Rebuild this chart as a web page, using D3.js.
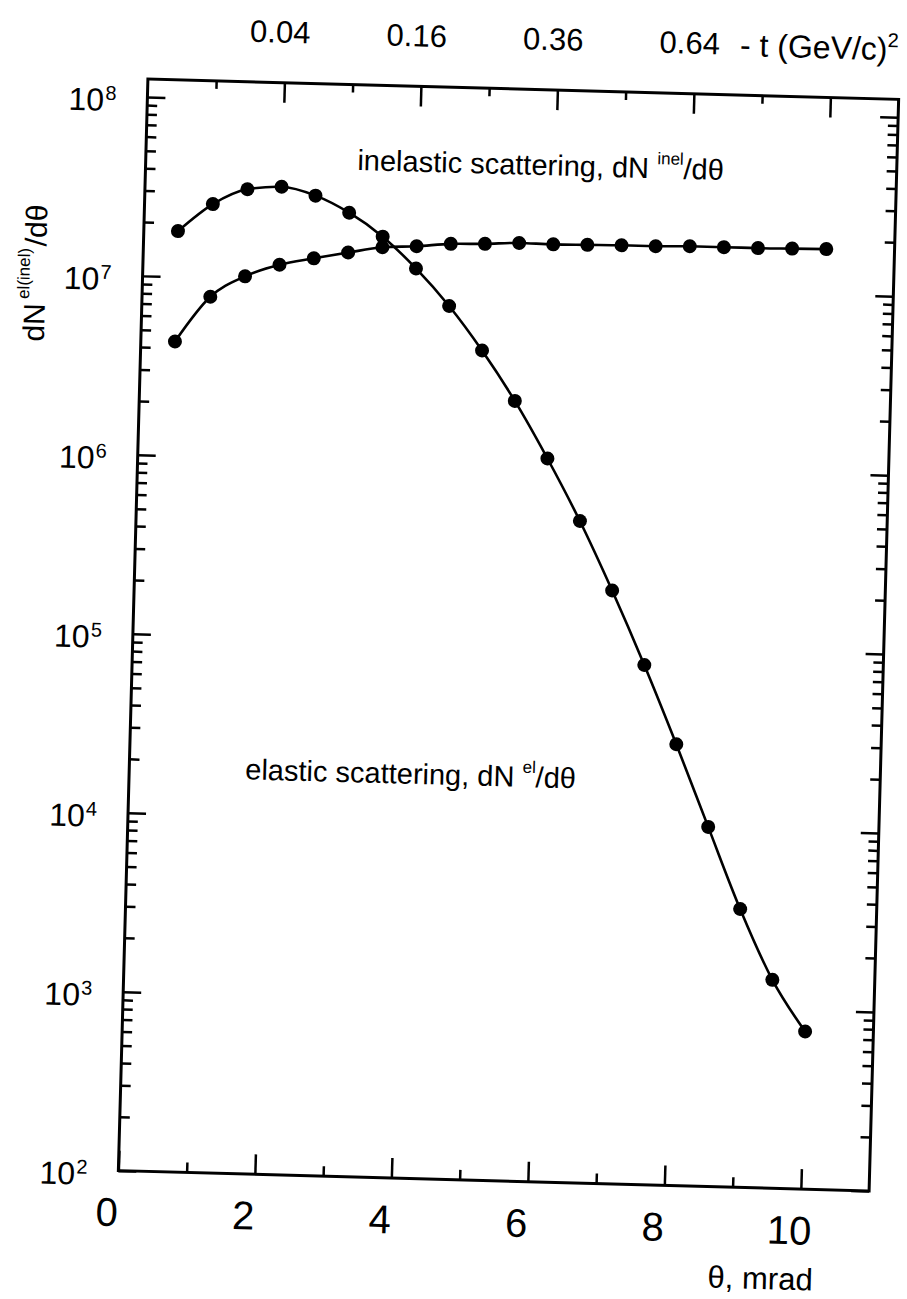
<!DOCTYPE html>
<html>
<head>
<meta charset="utf-8">
<script src="https://cdn.jsdelivr.net/npm/d3@7"></script>
<style>
  body { margin: 0; background: #fff; }
  svg { display: block; font-family: "Liberation Sans", Arial, Helvetica, sans-serif; }
</style>
</head>
<body>
<div id="chart"></div>
<script>
// scattering angle theta, mrad
const theta = [0.5, 1.0, 1.5, 2.0, 2.5, 3.0, 3.5, 4.0, 4.5, 5.0,
               5.5, 6.0, 6.5, 7.0, 7.5, 8.0, 8.5, 9.0, 9.5, 10.0];
// dN_el / dtheta
const elastic = [1.80e7, 2.58e7, 3.16e7, 3.30e7, 2.98e7, 2.42e7, 1.80e7, 1.21e7, 7.55e6, 4.31e6,
                 2.28e6, 1.10e6, 4.98e5, 2.06e5, 8.0e4, 2.92e4, 1.02e4, 3.59e3, 1.46e3, 7.6e2];
// dN_inel / dtheta
const inelastic = [4.35e6, 7.83e6, 1.03e7, 1.21e7, 1.33e7, 1.45e7, 1.57e7, 1.61e7, 1.68e7, 1.70e7,
                   1.74e7, 1.73e7, 1.74e7, 1.75e7, 1.75e7, 1.77e7, 1.77e7, 1.77e7, 1.78e7, 1.79e7];

// axis ticks
const xMajor = [0, 2, 4, 6, 8, 10];
const xMinor = [1, 3, 5, 7, 9];
const yDecades = [1e2, 1e3, 1e4, 1e5, 1e6, 1e7, 1e8];
// top axis: -t (GeV/c)^2 at theta = 2, 4, 6, 8 mrad
const tTheta = [2, 4, 6, 8];
const tLabels = ['0.04', '0.16', '0.36', '0.64'];

const width = 907, height = 1299;
const margin = { top: 89, right: 23, bottom: 118, left: 133 };
const innerW = width - margin.left - margin.right;
const innerH = height - margin.top - margin.bottom;

const x = d3.scaleLinear().domain([0, 11]).range([margin.left, margin.left + innerW]);
const y = d3.scaleLog().domain([1e2, Math.pow(10, 8.1)]).range([margin.top + innerH, margin.top]);

const svg = d3.select('#chart').append('svg')
  .attr('width', width)
  .attr('height', height);

// the scanned figure sits slightly tilted on the page
const root = svg.append('g').attr('transform', 'rotate(1.55 509 635)');

const isDecade = v => Math.abs(Math.log10(v) - Math.round(Math.log10(v))) < 1e-9;
const yMinor = y.ticks().filter(v => !isDecade(v));

function clean(g) {
  g.attr('font-size', null).attr('font-family', null);
  g.select('.domain').remove();
  g.selectAll('.tick line').attr('stroke', '#000').attr('stroke-width', 2.5);
}

// bottom axis
const bottom = margin.top + innerH;
root.append('g')
  .attr('transform', `translate(0,${bottom})`)
  .call(d3.axisBottom(x).tickValues(xMinor).tickSize(-10).tickFormat(''))
  .call(clean);
root.append('g')
  .attr('transform', `translate(0,${bottom})`)
  .call(d3.axisBottom(x).tickValues(xMajor).tickSize(-20).tickPadding(27).tickFormat(d3.format('d')))
  .call(clean)
  .call(g => g.selectAll('.tick text').attr('dx', -11).attr('font-size', 40).attr('fill', '#000'));

// top axis (-t scale)
root.append('g')
  .attr('transform', `translate(0,${margin.top})`)
  .call(d3.axisTop(x).tickValues(xMinor).tickSize(-8).tickFormat(''))
  .call(clean);
root.append('g')
  .attr('transform', `translate(0,${margin.top})`)
  .call(d3.axisTop(x).tickValues([2, 4, 6, 8, 10]).tickSize(-20).tickPadding(40)
    .tickFormat(d => { const i = tTheta.indexOf(d); return i < 0 ? '' : tLabels[i]; }))
  .call(clean)
  .call(g => g.selectAll('.tick text').attr('dx', -6).attr('font-size', 31).attr('fill', '#000'));

// left axis
root.append('g')
  .attr('transform', `translate(${margin.left},0)`)
  .call(d3.axisLeft(y).tickValues(yMinor).tickSize(-10).tickFormat(''))
  .call(clean);
root.append('g')
  .attr('transform', `translate(${margin.left},0)`)
  .call(d3.axisLeft(y).tickValues(yDecades).tickSize(-18).tickPadding(31))
  .call(clean)
  .call(g => {
    const t = g.selectAll('.tick text')
      .attr('dy', '0.45em')
      .attr('font-size', 32)
      .attr('fill', '#000')
      .text(null);
    t.append('tspan').text('10');
    t.append('tspan')
      .attr('dx', 1)
      .attr('dy', '-0.55em')
      .attr('font-size', 20)
      .text(d => Math.round(Math.log10(d)));
  });

// right axis
const right = margin.left + innerW;
root.append('g')
  .attr('transform', `translate(${right},0)`)
  .call(d3.axisRight(y).tickValues(yMinor).tickSize(-10).tickFormat(''))
  .call(clean);
root.append('g')
  .attr('transform', `translate(${right},0)`)
  .call(d3.axisRight(y).tickValues(yDecades).tickSize(-18).tickFormat(''))
  .call(clean);

// frame
root.append('rect')
  .attr('x', margin.left)
  .attr('y', margin.top)
  .attr('width', innerW)
  .attr('height', innerH)
  .attr('fill', 'none')
  .attr('stroke', '#000')
  .attr('stroke-width', 3);

// curves and points
const series = [elastic, inelastic].map(vals => theta.map((t, i) => ({ t, v: vals[i] })));

const line = d3.line()
  .x(d => x(d.t))
  .y(d => y(d.v))
  .curve(d3.curveMonotoneX);

root.selectAll('.curve')
  .data(series)
  .join('path')
    .attr('class', 'curve')
    .attr('d', line)
    .attr('fill', 'none')
    .attr('stroke', '#000')
    .attr('stroke-width', 2.6);

root.selectAll('.pts')
  .data(series)
  .join('g')
    .attr('class', 'pts')
  .selectAll('circle')
  .data(d => d)
  .join('circle')
    .attr('cx', d => x(d.t))
    .attr('cy', d => y(d.v))
    .attr('r', 7)
    .attr('fill', '#000');

// curve annotations
const notes = [
  { t: 3.1, v: 4.2e7, main: 'inelastic scattering, dN', sup: 'inel', tail: '/dθ' },
  { t: 1.7, v: 1.6e4, main: 'elastic scattering, dN', sup: 'el', tail: '/dθ' }
];
notes.forEach(n => {
  const txt = root.append('text')
    .attr('x', x(n.t))
    .attr('y', y(n.v))
    .attr('font-size', 29)
    .attr('fill', '#000');
  txt.append('tspan').text(n.main);
  txt.append('tspan').attr('dx', 8).attr('dy', -14).attr('font-size', 17).text(n.sup);
  txt.append('tspan').attr('dy', 14).text(n.tail);
});

// axis titles
const tTitle = root.append('text')
  .attr('x', 724)
  .attr('y', 50)
  .attr('font-size', 32)
  .attr('fill', '#000');
tTitle.append('tspan').text('- t (GeV/c)');
tTitle.append('tspan').attr('dy', -13).attr('font-size', 20).text('2');

root.append('text')
  .attr('x', 830)
  .attr('y', 1282)
  .attr('text-anchor', 'end')
  .attr('font-size', 31)
  .attr('fill', '#000')
  .text('θ, mrad');

const yTitle = root.append('text')
  .attr('transform', 'translate(36,286) rotate(-90)')
  .attr('text-anchor', 'middle')
  .attr('font-size', 30)
  .attr('fill', '#000');
yTitle.append('tspan').text('dN');
yTitle.append('tspan').attr('dx', 4).attr('dy', -16).attr('font-size', 17).text('el(inel)');
yTitle.append('tspan').attr('dx', 2).attr('dy', 16).text('/dθ');
</script>
</body>
</html>
